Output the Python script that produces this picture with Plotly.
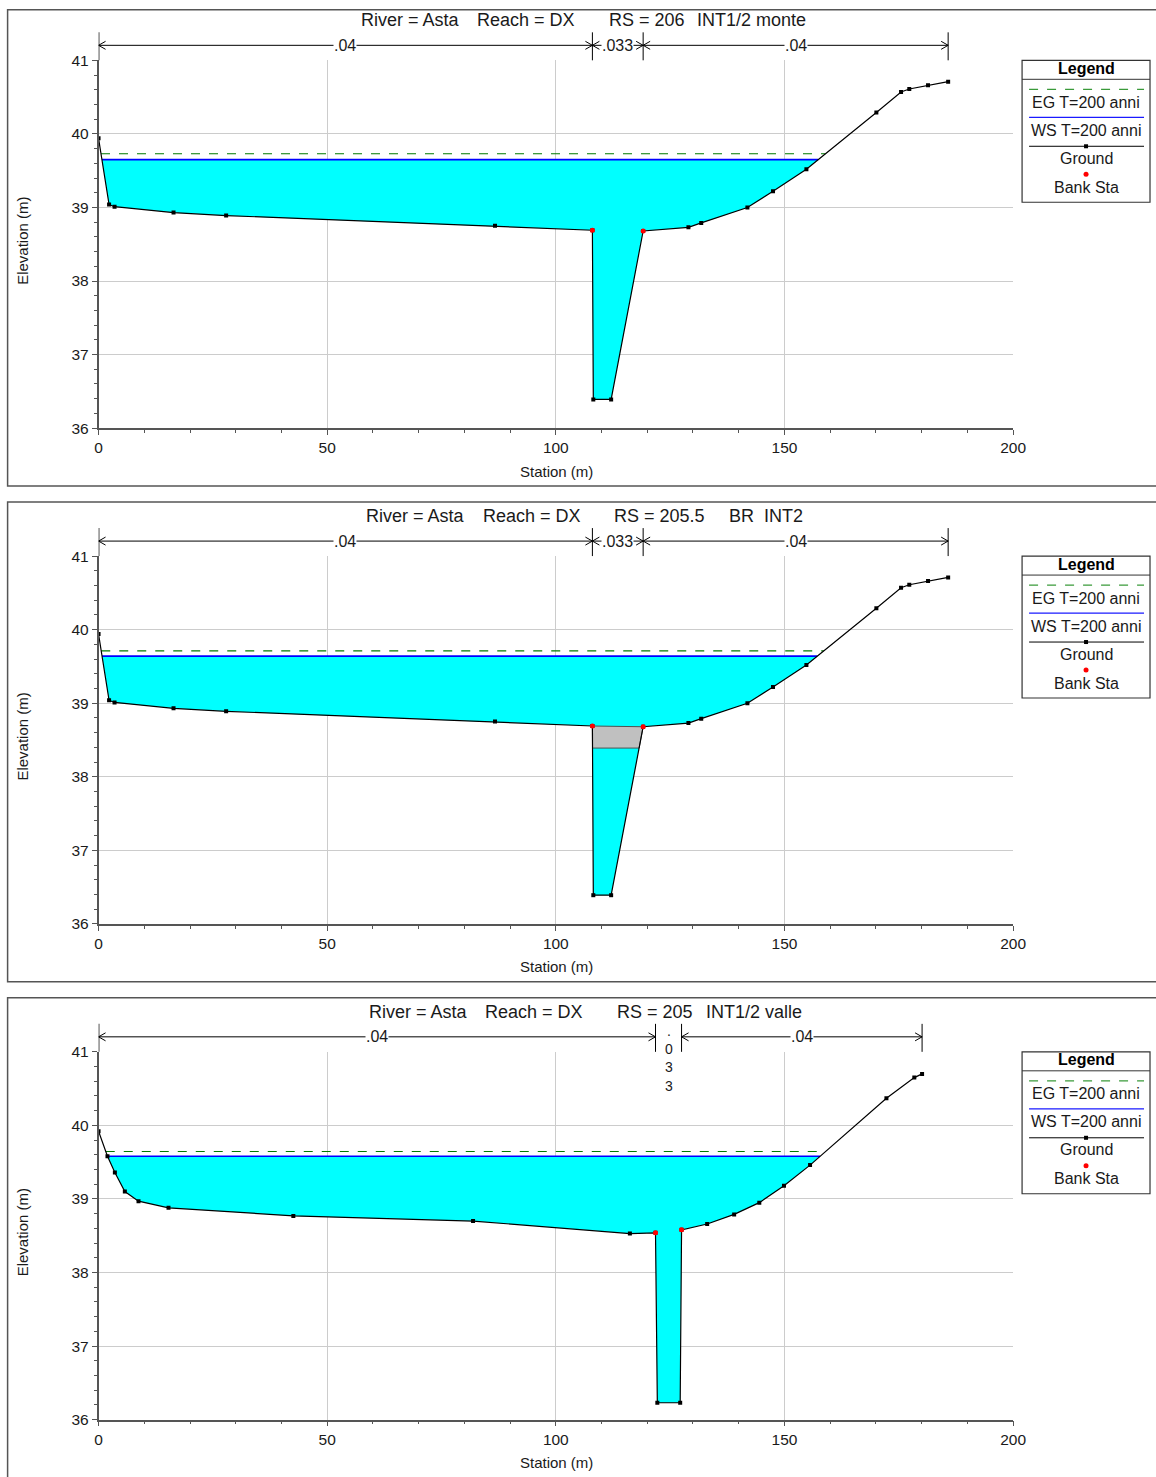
import numpy as np
import plotly.graph_objects as go

W, H = 1156, 1477
# observed mapping of page pixels to the returned photo (compensated below)
SX, OX = 0.9858, 3.4
SY, OY = 0.98897, 8.66

# ---------------- DATA ----------------
# RS 206  INT1/2 monte
sta_206 = [0, 2.3, 3.5, 16.4, 27.9, 86.7, 108.0, 108.2, 112.1, 119.1, 129.0, 131.8,
           141.9, 147.5, 154.8, 170.1, 175.5, 177.3, 181.4, 185.8]
elev_206 = [39.94, 39.04, 39.01, 38.93, 38.89, 38.75, 38.69, 36.39, 36.39, 38.68, 38.73, 38.79,
            39.00, 39.22, 39.52, 40.29, 40.57, 40.61, 40.66, 40.71]
bank_206 = [108.0, 119.1]
ws_206 = 39.65
eg_206 = 39.73
nbrk_206 = [0, 108.0, 119.1, 185.8]
nval_206 = [".04", ".033", ".04"]

# RS 205.5  BR INT2
sta_2055 = [0, 2.3, 3.5, 16.4, 27.9, 86.7, 108.0, 108.2, 112.1, 119.1, 129.0, 131.8,
            141.9, 147.5, 154.8, 170.1, 175.5, 177.3, 181.4, 185.8]
elev_2055 = [39.94, 39.04, 39.01, 38.93, 38.89, 38.75, 38.69, 36.39, 36.39, 38.68, 38.73, 38.79,
             39.00, 39.22, 39.52, 40.29, 40.57, 40.61, 40.66, 40.71]
bank_2055 = [108.0, 119.1]
ws_2055 = 39.64
eg_2055 = 39.71
nbrk_2055 = [0, 108.0, 119.1, 185.8]
nval_2055 = [".04", ".033", ".04"]
deck_sta = [108.0, 119.1]
deck_hi = [38.69, 38.68]
deck_lo = [38.39, 38.39]

# RS 205  INT1/2 valle
sta_205 = [0, 1.95, 3.57, 5.75, 8.74, 15.3, 42.6, 81.9, 116.2, 121.8, 122.2, 127.2, 127.5,
           133.1, 139.0, 144.5, 149.9, 155.6, 172.3, 178.4, 180.1]
elev_205 = [39.92, 39.58, 39.36, 39.10, 38.97, 38.88, 38.77, 38.70, 38.53, 38.54, 36.23, 36.23,
            38.58, 38.66, 38.79, 38.95, 39.18, 39.46, 40.37, 40.65, 40.70]
bank_205 = [121.8, 127.5]
ws_205 = 39.58
eg_205 = 39.645
nbrk_205 = [0, 121.8, 127.5, 180.1]
nval_205 = [".04", ".033", ".04"]

# title pieces (text, left pixel)
title_parts = [
    [("River = Asta", 359), ("Reach = DX", 475), ("RS = 206", 607), ("INT1/2 monte", 695)],
    [("River = Asta", 364), ("Reach = DX", 481), ("RS = 205.5", 612), ("BR\u00a0\u00a0INT2", 727)],
    [("River = Asta", 367), ("Reach = DX", 483), ("RS = 205", 615), ("INT1/2 valle", 704)],
]
legend_labels = ["EG T=200 anni", "WS T=200 anni", "Ground", "Bank Sta"]

panels = [
    dict(sta=sta_206, elev=elev_206, bank=bank_206, ws=ws_206, eg=eg_206,
         nbrk=nbrk_206, nval=nval_206, deck=None),
    dict(sta=sta_2055, elev=elev_2055, bank=bank_2055, ws=ws_2055, eg=eg_2055,
         nbrk=nbrk_2055, nval=nval_2055, deck=(deck_sta, deck_hi, deck_lo)),
    dict(sta=sta_205, elev=elev_205, bank=bank_205, ws=ws_205, eg=eg_205,
         nbrk=nbrk_205, nval=nval_205, deck=None),
]

# ---------------- HELPERS ----------------
FONT = "Liberation Sans, Arial, sans-serif"
TXT = "#1a1a1a"
AXC = "#555555"
EGC = "#007a00"


def PX(t):
    return ((t - OX) / SX) / W


def PY(t):
    p = (t - OY) / SY
    p = max(p, 0.75)
    return 1 - p / H


def with_crossings(xs, ys, level):
    ox, oy = [xs[0]], [ys[0]]
    for i in range(1, len(xs)):
        x0, y0, x1, y1 = xs[i - 1], ys[i - 1], xs[i], ys[i]
        if (y0 - level) * (y1 - level) < 0:
            t = (level - y0) / (y1 - y0)
            ox.append(x0 + t * (x1 - x0))
            oy.append(level)
        ox.append(x1)
        oy.append(y1)
    return np.array(ox), np.array(oy)


def wet_range(xs, ys, level):
    xa, ya = with_crossings(xs, ys, level)
    idx = np.where(ya <= level + 1e-9)[0]
    i0, i1 = idx[0], idx[-1]
    return xa[i0:i1 + 1], np.minimum(ya[i0:i1 + 1], level)


fig = go.Figure()
shapes = []
annotations = []

XPX0, XPX1 = 98, 1013
PX_PER_M = (XPX1 - XPX0) / 200.0

for k, p in enumerate(panels):
    off = 496 * k
    xa_name = "x" if k == 0 else f"x{k + 1}"
    ya_name = "y" if k == 0 else f"y{k + 1}"
    sta, elev = p["sta"], p["elev"]

    # water fill
    wx, wy = wet_range(sta, elev, p["ws"])
    fig.add_trace(go.Scatter(x=wx, y=wy, fill="toself", fillcolor="#00ffff",
                             line=dict(width=0), mode="lines", xaxis=xa_name, yaxis=ya_name,
                             hoverinfo="skip", showlegend=False))
    # bridge deck
    if p["deck"] is not None:
        dsta, dhi, dlo = p["deck"]
        lo = dlo[0]
        xa, yv = with_crossings(sta, elev, lo)
        sel = (xa >= dsta[0] - 1e-9) & (xa <= dsta[1] + 1e-9)
        lower_x = list(xa[sel])
        lower_y = list(np.maximum(yv[sel], lo))
        px_ = lower_x + list(dsta[::-1]) + [lower_x[0]]
        py_ = lower_y + list(dhi[::-1]) + [lower_y[0]]
        fig.add_trace(go.Scatter(x=px_, y=py_, fill="toself", fillcolor="#c0c0c0",
                                 line=dict(color="#505050", width=1), mode="lines",
                                 xaxis=xa_name, yaxis=ya_name, hoverinfo="skip",
                                 showlegend=False))
    # EG line
    ex, ey = wet_range(sta, elev, p["eg"])
    fig.add_trace(go.Scatter(x=[ex[0], ex[-1]], y=[p["eg"], p["eg"]], mode="lines",
                             line=dict(color=EGC, width=1.2, dash="dash"),
                             xaxis=xa_name, yaxis=ya_name, hoverinfo="skip", showlegend=False))
    # WS line
    fig.add_trace(go.Scatter(x=[wx[0], wx[-1]], y=[p["ws"], p["ws"]], mode="lines",
                             line=dict(color="#0000ff", width=1.6),
                             xaxis=xa_name, yaxis=ya_name, hoverinfo="skip", showlegend=False))
    # Ground
    fig.add_trace(go.Scatter(x=sta, y=elev, mode="lines+markers",
                             line=dict(color="black", width=1.2),
                             marker=dict(symbol="square", size=4, color="black"),
                             xaxis=xa_name, yaxis=ya_name, hoverinfo="skip", showlegend=False))
    # Bank stations
    by = [elev[sta.index(b)] for b in p["bank"]]
    fig.add_trace(go.Scatter(x=p["bank"], y=by, mode="markers",
                             marker=dict(symbol="circle", size=5, color="red"),
                             xaxis=xa_name, yaxis=ya_name, hoverinfo="skip", showlegend=False))

    # axes
    xlay = "xaxis" if k == 0 else f"xaxis{k + 1}"
    ylay = "yaxis" if k == 0 else f"yaxis{k + 1}"
    fig.update_layout(**{
        xlay: dict(domain=[PX(XPX0), PX(XPX1)], range=[0, 200], anchor=ya_name,
                   tickmode="linear", tick0=0, dtick=50, ticks="outside", ticklen=5,
                   tickcolor=AXC, showline=True, linecolor=AXC, linewidth=1.5,
                   showgrid=True, gridcolor="#cccccc", gridwidth=1, zeroline=False,
                   tickfont=dict(family=FONT, size=15.5, color=TXT),
                   minor=dict(dtick=10, ticks="outside", ticklen=3, tickcolor=AXC,
                              showgrid=False)),
        ylay: dict(domain=[PY(428 + off), PY(60 + off)], range=[36, 41], anchor=xa_name,
                   tickmode="linear", tick0=36, dtick=1, ticks="outside", ticklen=5,
                   tickcolor=AXC, showline=True, linecolor=AXC, linewidth=1.5,
                   showgrid=True, gridcolor="#cccccc", gridwidth=1, zeroline=False,
                   tickfont=dict(family=FONT, size=15.5, color=TXT),
                   minor=dict(dtick=0.2, ticks="outside", ticklen=3, tickcolor=AXC,
                              showgrid=False)),
    })

    # panel frame
    fy0 = 486 + off
    shapes.append(dict(type="rect", xref="paper", yref="paper", x0=PX(7), x1=PX(W + 30),
                       y0=PY(fy0) if k < 2 else -0.02, y1=PY(6 + off),
                       line=dict(color="#555555", width=1.5), fillcolor="rgba(0,0,0,0)",
                       layer="below"))

    # title
    for txt, xl in title_parts[k]:
        annotations.append(dict(text=txt, xref="paper", yref="paper", x=PX(xl),
                                y=PY(20 + off), showarrow=False, xanchor="left",
                                yanchor="middle", font=dict(family=FONT, size=18, color=TXT)))
    # axis titles
    annotations.append(dict(text="Elevation (m)", xref="paper", yref="paper", x=PX(22),
                            y=PY(241 + off), showarrow=False, textangle=-90,
                            xanchor="center", yanchor="middle",
                            font=dict(family=FONT, size=15, color=TXT)))
    annotations.append(dict(text="Station (m)", xref="paper", yref="paper", x=PX(556),
                            y=PY(471 + off), showarrow=False, xanchor="center",
                            yanchor="middle", font=dict(family=FONT, size=15, color=TXT)))

    # Manning's n bar
    ybar = PY(45 + off)
    for j, b in enumerate(p["nbrk"]):
        shapes.append(dict(type="line", xref=xa_name, yref="paper", x0=b, x1=b,
                           y0=PY(32 + off), y1=PY(60 + off),
                           line=dict(color=AXC if j == 0 else "black",
                                     width=2 if j == 0 else 1)))
    for j, lab in enumerate(p["nval"]):
        a, b = p["nbrk"][j], p["nbrk"][j + 1]
        mid = 0.5 * (a + b)
        if (b - a) * PX_PER_M > 40:
            shapes.append(dict(type="line", xref=xa_name, yref="paper", x0=a, x1=b,
                               y0=ybar, y1=ybar, line=dict(color="black", width=1)))
            for anchor, sgn in ((a, 1), (b, -1)):
                for dy in (4, -4):
                    shapes.append(dict(type="line", xref=xa_name, yref="paper",
                                       xsizemode="pixel", xanchor=anchor,
                                       ysizemode="pixel", yanchor=ybar,
                                       x0=0, x1=7 * sgn, y0=0, y1=dy,
                                       line=dict(color="black", width=1)))
            annotations.append(dict(text=lab, xref=xa_name, yref="paper", x=mid, y=ybar,
                                    showarrow=False, xanchor="center", yanchor="middle",
                                    bgcolor="white", borderpad=0,
                                    font=dict(family=FONT, size=16, color=TXT)))
        else:
            annotations.append(dict(text="<br>".join(list(lab)), xref=xa_name, yref="paper",
                                    x=mid, y=PY(29 + off), showarrow=False,
                                    xanchor="center", yanchor="top",
                                    font=dict(family=FONT, size=14, color=TXT)))

    # Legend box
    lx0, lx1 = 1022, 1150
    shapes.append(dict(type="rect", xref="paper", yref="paper", x0=PX(lx0), x1=PX(lx1),
                       y0=PY(202 + off), y1=PY(60 + off),
                       line=dict(color="#333333", width=1.2), fillcolor="white"))
    shapes.append(dict(type="line", xref="paper", yref="paper", x0=PX(lx0), x1=PX(lx1),
                       y0=PY(79 + off), y1=PY(79 + off),
                       line=dict(color="#333333", width=1)))
    annotations.append(dict(text="<b>Legend</b>", xref="paper", yref="paper", x=PX(1086),
                            y=PY(68 + off), showarrow=False, xanchor="center",
                            yanchor="middle", font=dict(family=FONT, size=16, color="black")))
    ll0, ll1 = PX(1029), PX(1144)
    shapes.append(dict(type="line", xref="paper", yref="paper", x0=ll0, x1=ll1,
                       y0=PY(89 + off), y1=PY(89 + off),
                       line=dict(color="#3a9a3a", width=1.2, dash="dash")))
    shapes.append(dict(type="line", xref="paper", yref="paper", x0=ll0, x1=ll1,
                       y0=PY(117 + off), y1=PY(117 + off),
                       line=dict(color="#1a1aff", width=1.2)))
    shapes.append(dict(type="line", xref="paper", yref="paper", x0=ll0, x1=ll1,
                       y0=PY(146 + off), y1=PY(146 + off),
                       line=dict(color="black", width=1)))
    shapes.append(dict(type="rect", xref="paper", yref="paper",
                       xsizemode="pixel", xanchor=PX(1086), x0=-2, x1=2,
                       ysizemode="pixel", yanchor=PY(146 + off), y0=-2, y1=2,
                       line=dict(width=0), fillcolor="black"))
    shapes.append(dict(type="circle", xref="paper", yref="paper",
                       xsizemode="pixel", xanchor=PX(1086), x0=-2.5, x1=2.5,
                       ysizemode="pixel", yanchor=PY(174 + off), y0=-2.5, y1=2.5,
                       line=dict(width=0), fillcolor="red"))
    for lab, yy in zip(legend_labels, (102, 130, 158, 187)):
        annotations.append(dict(text=lab, xref="paper", yref="paper", x=PX(1086),
                                y=PY(yy + off), showarrow=False, xanchor="center",
                                yanchor="middle", font=dict(family=FONT, size=16, color=TXT)))

fig.update_layout(
    width=W, height=H, autosize=False,
    margin=dict(l=0, r=0, t=0, b=0),
    paper_bgcolor="white", plot_bgcolor="white",
    showlegend=False,
    shapes=shapes, annotations=annotations,
    font=dict(family=FONT, color=TXT),
)

fig.write_html("out.html", config={"displayModeBar": False},
               post_script="document.body.style.margin='0';document.body.style.overflow='hidden';")
